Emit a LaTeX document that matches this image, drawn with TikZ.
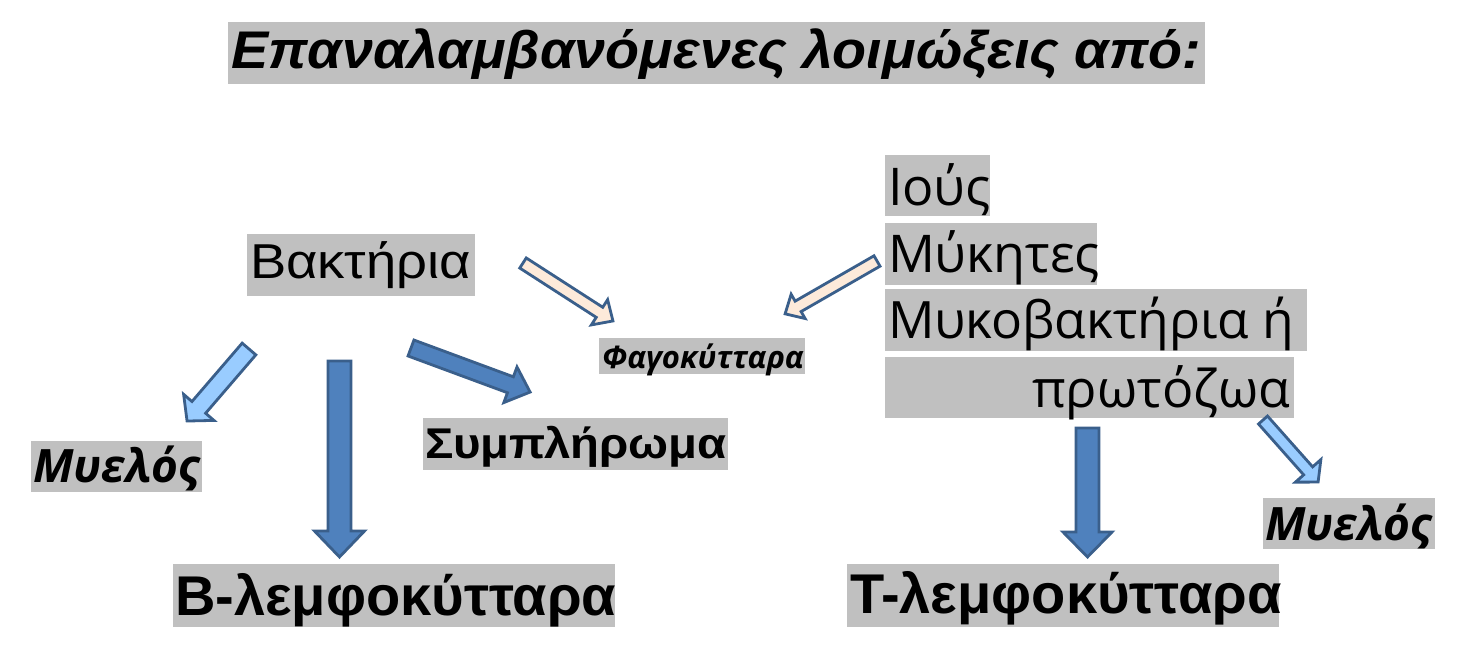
\documentclass[tikz,border=0pt]{standalone}
\usepackage{fontspec}
\setmainfont{Liberation Sans}
\newfontfamily\osans{Open Sans}
\definecolor{boxgray}{HTML}{C0C0C0}
\definecolor{dkblue}{HTML}{4F81BD}
\definecolor{edgeblue}{HTML}{3A5F8B}
\definecolor{ltblue}{HTML}{99CCFF}
\definecolor{peach}{HTML}{FDEADA}
\newcommand\blockarrow[7]{%
\begin{scope}[shift={(#2)},rotate=#3]
\draw[#1] (0,-#5) -- ({#4-#7},-#5) -- ({#4-#7},-#6) -- (#4,0) -- ({#4-#7},#6) -- ({#4-#7},#5) -- (0,#5) -- cycle;
\end{scope}}
\newcommand\fsz[1]{\fontsize{#1}{#1}\selectfont}
\begin{document}
\begin{tikzpicture}[x=1pt,y=-1pt,
  txt/.style={anchor=base west,inner sep=0pt,outer sep=0pt},
  bg/.style={fill=boxgray},
  darr/.style={fill=dkblue,draw=edgeblue,line width=2.8pt,line join=miter},
  larr/.style={fill=ltblue,draw=edgeblue,line width=2.8pt,line join=miter},
  parr/.style={fill=peach,draw=edgeblue,line width=2.8pt,line join=miter}]
\useasboundingbox[fill=white] (0,0) rectangle (1466,662);
% gray backgrounds
\fill[bg] (228,22) rectangle (1205,84);
\fill[bg] (247,234) rectangle (475,296);
\fill[bg] (885,155) rectangle (990,216);
\fill[bg] (885,223) rectangle (1097,285);
\fill[bg] (885,289) rectangle (1307,351);
\fill[bg] (885,357) rectangle (1294,418);
\fill[bg] (599,338) rectangle (805,374);
\fill[bg] (423,418) rectangle (728,470);
\fill[bg] (31,441) rectangle (202,492);
\fill[bg] (1263,498) rectangle (1435,549);
\fill[bg] (173,564) rectangle (615,627);
\fill[bg] (847,564) rectangle (1279,627);
% texts
\node[txt] (title) at (231,68) {\fsz{53}\bfseries\itshape\scalebox{1.05}[1]{Επαναλαμβανόμενες λοιμώξεις από:}};
\node[txt] (bakt) at (250,278) {\fsz{49}\scalebox{1.11}[1]{Βακτήρια}};
\node[txt] (ious) at (888,205) {\osans\fsz{52}Ιούς};
\node[txt] (myk) at (888,272) {\osans\fsz{52}Μύκητες};
\node[txt] (mykob) at (888,338) {\osans\fsz{51.5}Μυκοβακτήρια ή};
\node[txt] (prot) at (1032,407) {\osans\fsz{52}πρωτόζωα};
\node[txt] (fago) at (602,368) {\osans\fsz{31}\bfseries\itshape Φαγοκύτταρα};
\node[txt] (sympl) at (425,458) {\fsz{43}\bfseries\scalebox{1.1}[1]{Συμπλήρωμα}};
\node[txt] (myelL) at (33,482) {\osans\fsz{46}\bfseries\itshape Μυελός};
\node[txt] (myelR) at (1265,540) {\osans\fsz{46}\bfseries\itshape Μυελός};
\node[txt] (blym) at (175,615) {\fsz{56}\bfseries B-λεμφοκύτταρα};
\node[txt] (tlym) at (850,613) {\fsz{56}\bfseries T-λεμφοκύτταρα};
% arrow tails
\coordinate (tA) at (249,349);
\coordinate (tB) at (339.5,361);
\coordinate (tC) at (411,348);
\coordinate (tD) at (523,263);
\coordinate (tE) at (877,261);
\coordinate (tF) at (1087.5,428);
\coordinate (tG) at (1263,420);
\blockarrow{larr}{tA}{-130.7}{95}{9}{20}{18}
\blockarrow{darr}{tB}{-90}{196}{11.5}{25}{26}
\blockarrow{darr}{tC}{-20.3}{127}{8.5}{19}{21}
\blockarrow{parr}{tD}{-32.8}{107}{6}{15}{16}
\blockarrow{parr}{tE}{-150.1}{106}{6}{14}{15}
\blockarrow{darr}{tF}{-90}{129}{11.5}{24.5}{25}
\blockarrow{larr}{tG}{-48.4}{83}{6}{17}{15}
\end{tikzpicture}
\end{document}
